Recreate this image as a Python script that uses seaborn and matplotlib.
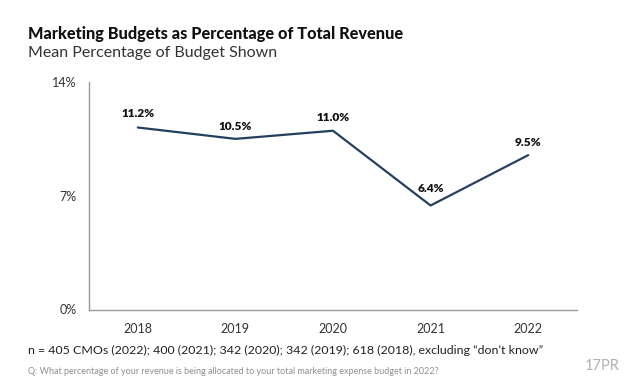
import matplotlib
matplotlib.use("Agg")
import matplotlib.pyplot as plt
import seaborn as sns
import pandas as pd

years = ["2018", "2019", "2020", "2021", "2022"]
values = [11.2, 10.5, 11.0, 6.4, 9.5]
labels = ["11.2%", "10.5%", "11.0%", "6.4%", "9.5%"]
yticks = [0, 7, 14]
ytick_labels = ["0%", "7%", "14%"]
title = "Marketing Budgets as Percentage of Total Revenue"
subtitle = "Mean Percentage of Budget Shown"
note = "n = 405 CMOs (2022); 400 (2021); 342 (2020); 342 (2019); 618 (2018), excluding \u201cdon\u2019t know\u201d"
question = "Q: What percentage of your revenue is being allocated to your total marketing expense budget in 2022?"

sns.set_style("white")
plt.rcParams['font.family'] = ['Lato', 'DejaVu Sans']
df = pd.DataFrame({"year": years, "value": values})
label_offsets = [5.8, 5.0, 5.5, 8.0, 4.8]

fig = plt.figure(figsize=(6.4, 3.92), dpi=100)
W, H = 640, 392
ax = fig.add_axes([89/W, 1-309.5/H, (577-89)/W, (309.5-82)/H])
sns.lineplot(data=df, x="year", y="value", ax=ax, color="#24405f", linewidth=1.6, sort=False)
ax.set_xlim(-0.5, 4.5)
ax.set_ylim(0, 14)
ax.set_yticks(yticks, ytick_labels)
ax.set_xlabel("")
ax.set_ylabel("")
ax.tick_params(axis="both", length=0, labelsize=9, colors="#333333")
ax.tick_params(axis="x", pad=10)
ax.tick_params(axis="y", pad=9)
ax.spines["top"].set_visible(False)
ax.spines["right"].set_visible(False)
for s in ("left", "bottom"):
    ax.spines[s].set_color("#9a9a9a")
    ax.spines[s].set_linewidth(1.0)
for i, (v, l) in enumerate(zip(values, labels)):
    ax.annotate(l, (i, v), xytext=(0, label_offsets[i]), textcoords="offset points", ha="center", va="bottom",
                fontsize=8.6, fontweight="heavy", color="#111111")
fig.text(28/W, 1-34/H, title, fontsize=11.7, fontweight="black", color="#111111", va="center")
fig.text(28/W, 1-53/H, subtitle, fontsize=11.5, color="#333333", va="center")
fig.text(28/W, 1-350/H, note, fontsize=8.9, color="#222222", va="center")
fig.text(28/W, 1-371/H, question, fontsize=6.5, color="#8f8f8f", va="center")
fig.text(602/W, 1-366/H, "17PR", fontsize=10.5, color="#b0b0b0", va="center", ha="center")
fig.savefig("out.png", dpi=100, facecolor="white")
